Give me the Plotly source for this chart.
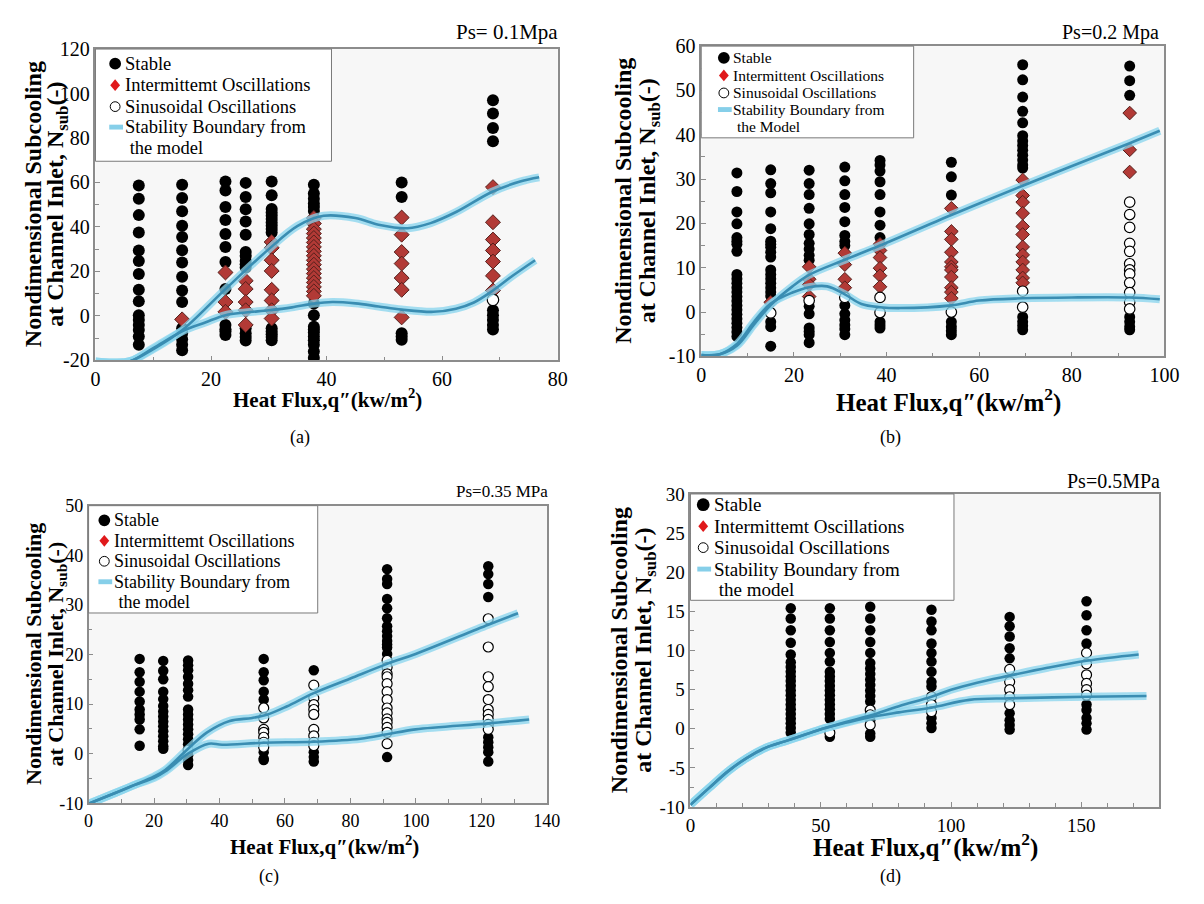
import plotly.graph_objects as go

FONT = "Liberation Serif"

# ======================= DATA =======================
# ---- Panel (a)  Ps = 0.1 MPa ----
A_STABLE = {
    7.5: [58.6, 52.7, 45.3, 37.5, 29.4, 24.7, 18.8, 11.7, 6.5, 0.3, -1.9, -4.1, -6.4, -9.3, -13.0],
    15.0: [59.0, 53.0, 47.0, 40.5, 35.5, 29.5, 24.0, 17.6, 11.4, 6.2, -5.6, -8.0, -10.5, -13.0, -15.5],
    22.5: [60.4, 56.4, 49.0, 43.1, 36.8, 31.0, 24.2, 12.1, -4.1, -6.0, -7.1, -8.6],
    26.0: [59.8, 53.5, 47.9, 42.4, 36.5, 28.7, 26.9, 24.7, 23.2, 21.7, -5.6, -7.8, -9.5, -11.1],
    30.5: [60.4, 54.2, 48.0, 46.5, 45.0, 43.5, 42.0, 40.5, 39.0, 37.5, -5.6, -7.0, -8.3, -9.5, -11.0],
    37.8: [59.0, 55.0, 52.7, 50.5, 49.0, 47.1, 5.5, 0.3, -4.9, -6.2, -7.5, -9.3, -11.0, -13.0, -16.0, -18.9],
    53.0: [60.0, 53.5, -7.8, -9.3, -10.8],
    68.8: [97.0, 91.0, 84.5, 78.5, 2.5, 0.3, -1.9, -4.1, -6.1],
}
A_INTER = {
    15.0: [-1.6],
    22.5: [19.5, 6.2, 1.8],
    26.0: [15.8, 12.1, 6.2, 2.5, -4.1],
    30.5: [33.2, 30.6, 25.0, 20.2, 11.7, 6.9, 2.5, -1.2],
    37.8: [44.0, 41.5, 39.0, 37.0, 35.0, 33.0, 31.0, 29.0, 27.0, 25.0, 23.0, 21.0, 19.0, 17.0, 15.0, 13.0, 11.0, 9.0],
    53.0: [44.2, 36.5, 28.7, 23.5, 17.0, 11.7, -0.7],
    68.8: [57.9, 42.1, 34.3, 29.4, 24.4, 18.0, 11.4],
}
A_SINUS = {68.8: [7.2]}
A_UP_X = [0, 3, 6, 10, 15, 22.5, 30, 35, 39.5, 45, 49, 54, 58, 62.5, 68.6, 73.5, 76.8]
A_UP_Y = [-20.5, -21, -20.4, -15, -6.5, 12, 30, 40.5, 45, 44, 41, 39.4, 41.7, 46.8, 55.7, 60.4, 62.3]
A_LO_X = [0, 3, 6, 10, 15, 19, 22.5, 26, 30, 34, 37.8, 41, 45, 49, 53, 58.5, 62.4, 65.5, 68.6, 72.2, 76.1]
A_LO_Y = [-20.5, -21, -20.4, -14.5, -7, -3, 0.3, 1.5, 2.5, 3.8, 5.5, 6.2, 5.6, 4.2, 2.8, 1.8, 3.2, 6.0, 11, 18, 25]
A_XTICKS = [0, 20, 40, 60, 80]
A_YTICKS = [-20, 0, 20, 40, 60, 80, 100, 120]

# ---- Panel (b)  Ps = 0.2 MPa ----
B_STABLE = {
    7.7: [31.4, 27.2, 22.6, 19.9, 16.8, 16.0, 15.3, 13.7, 8.5, 7.5, 6.5, 5.5, 4.5, 3.5, 2.5, 1.5, 0.5, -0.5, -1.5, -2.5, -3.5, -4.5, -5.5],
    15.0: [32.1, 29.0, 26.9, 22.6, 18.8, 16.0, 15.3, 14.6, 13.5, 12.4, 9.5, 8.5, 7.5, 6.5, 5.5, 4.5, 3.6, -2.2, -3.3, -7.7],
    23.3: [32.0, 29.0, 26.5, 23.4, 19.9, 17.5, 15.5, 14.2, 12.8, 11.7, 1.3, -0.4, -3.6, -4.4, -5.1, -6.9],
    31.0: [32.7, 29.6, 26.5, 23.6, 20.4, 17.3, 15.9, 15.0, 1.5, -0.4, -1.8, -2.9, -3.8, -5.1],
    38.6: [34.2, 33.2, 31.8, 29.4, 26.5, 22.6, 19.6, 16.8, -2.2, -2.9, -3.6],
    54.0: [33.8, 30.5, 26.4, -2.2, -3.3, -4.2, -5.1],
    69.4: [55.8, 52.4, 48.5, 45.3, 42.7, 39.8, 38.6, 37.6, 36.5, 35.4, 34.3, 33.2, 32.5, -1.1, -2.2, -3.1, -4.0],
    92.5: [55.5, 52.2, 48.9, -1.1, -2.2, -3.3, -4.0],
}
B_INTER = {
    15.0: [2.2],
    23.3: [10.2, 7.4, 6.2, 3.5],
    31.0: [13.3, 10.7, 7.4, 5.5],
    38.6: [15.3, 13.9, 12.3, 9.9, 8.2, 5.7],
    54.0: [23.4, 18.2, 16.4, 13.5, 11.3, 10.2, 9.5, 7.9, 5.5, 4.5, 3.1],
    69.4: [29.8, 26.3, 24.8, 22.3, 19.3, 17.5, 14.7, 12.9, 11.3, 9.5, 7.7, 6.6],
    92.5: [44.9, 36.6, 31.6],
}
B_SINUS = {
    15.0: [-0.2],
    23.3: [2.6],
    31.0: [3.3],
    38.6: [3.3, -0.1],
    54.0: [0.0],
    69.4: [4.7, 1.1],
    92.5: [24.8, 22.0, 19.1, 15.5, 13.7, 10.9, 9.5, 8.6, 6.6, 4.4, 2.2, 0.7],
}
B_UP_X = [0, 4, 7.7, 11.4, 15, 19.7, 23.3, 31, 38.6, 54, 69.4, 92.5, 99]
B_UP_Y = [-9.7, -9.5, -7.6, -2.8, 1.6, 5.8, 8.4, 11.8, 15, 21.9, 28.5, 38.1, 40.9]
B_LO_X = [0, 4, 7.7, 11.4, 15, 19.7, 23.3, 27.2, 31, 34.6, 38.6, 42.9, 54, 60, 69.4, 80, 92.5, 99]
B_LO_Y = [-9.7, -9.5, -7.2, -2.2, 1.9, 4.4, 5.6, 5.8, 4.0, 1.8, 1.1, 0.9, 1.5, 2.6, 3.1, 3.3, 3.3, 2.9]
B_XTICKS = [0, 20, 40, 60, 80, 100]
B_YTICKS = [-10, 0, 10, 20, 30, 40, 50, 60]

# ---- Panel (c)  Ps = 0.35 MPa ----
C_STABLE = {
    15.6: [19.1, 16.4, 14.5, 12.5, 10.5, 8.9, 7.9, 6.9, 4.9, 1.6],
    22.8: [18.7, 16.7, 15.0, 12.5, 11.0, 9.6, 8.5, 7.5, 6.5, 5.5, 4.5, 3.5, 2.5, 1.5, 1.0],
    30.4: [18.8, 17.8, 16.8, 15.5, 14.1, 12.8, 11.5, 8.9, 7.9, 6.9, 5.9, 4.9, 3.9, 2.9, 1.9, -0.3, -1.3, -2.3],
    53.5: [19.1, 16.4, 14.8, 12.5, 10.9, 0.3, -1.0, -1.3],
    68.8: [16.8, 0.3, -0.7, -1.6],
    91.2: [37.2, 35.2, 34.2, 31.2, 29.3, 27.3, 25.7, 24.7, 23.7, 22.7, 22.0, 21.4, 20.1, -0.7],
    122.1: [37.8, 36.2, 34.2, 31.6, 3.3, 2.3, 1.3, 0.3, -1.6],
}
C_SINUS = {
    30.4: [0.7],
    53.5: [9.2, 7.2, 4.9, 4.3, 3.3, 2.3, 1.3],
    68.8: [13.8, 11.2, 9.9, 8.9, 7.9, 4.9, 3.6, 2.3, 1.6],
    91.2: [18.8, 17.4, 16.1, 15.5, 14.1, 12.5, 10.9, 9.2, 8.2, 7.0, 6.3, 5.3, 4.3, 2.0],
    122.1: [27.2, 21.5, 15.5, 13.5, 10.9, 8.9, 7.9, 6.9, 5.9, 4.9],
}
C_INTER = {}
C_UP_X = [0, 8.3, 14.1, 20, 23.4, 30.4, 36.2, 43.1, 50, 54.7, 60.5, 68.8, 79.8, 91.2, 99.9, 122.1, 131.2]
C_UP_Y = [-10.1, -7.9, -6.3, -4.6, -3.3, 1, 4.3, 6.6, 7.2, 7.9, 9.5, 12.2, 15.1, 18.1, 20.1, 26, 28.3]
C_LO_X = [0, 8.3, 14.1, 20, 23.4, 30.4, 36.7, 40.8, 53.5, 68.8, 83.1, 91.2, 99.9, 122.1, 134.6]
C_LO_Y = [-10.1, -7.9, -6.3, -4.9, -3.6, 0, 2, 1.8, 2.2, 2.4, 3, 3.9, 4.9, 6.1, 6.9]
C_XTICKS = [0, 20, 40, 60, 80, 100, 120, 140]
C_YTICKS = [-10, 0, 10, 20, 30, 40, 50]

# ---- Panel (d)  Ps = 0.5 MPa ----
D_STABLE = {
    38.5: [15.4, 14.1, 12.6, 11.0, 9.5, 8.5, 7.9, 7.3, 6.7, 6.1, 5.5, 4.9, 4.3, 3.7, 3.1, 2.5, 1.9, 1.3, 0.7, 0.1, -0.5],
    53.5: [15.4, 14.1, 12.6, 11.1, 9.7, 8.6, 7.3, 6.7, 6.1, 5.5, 4.9, 4.3, 3.7, 3.1, 2.5, 1.9, 1.3, -1.0],
    69.0: [15.6, 14.1, 12.6, 11.1, 9.7, 8.4, 7.7, 7.0, 6.3, 5.6, 4.9, 4.2, 3.5, 1.1, -0.6, -1.0],
    92.5: [15.2, 13.7, 12.6, 10.9, 9.7, 8.6, 7.3, 6.0, 5.4, 1.4, 0.7, 0.1],
    122.5: [14.3, 13.1, 11.8, 10.3, 9.0, 2.0, 1.1, 0.5, -0.1],
    152.0: [16.3, 14.5, 12.6, 10.9, 3.1, 2.4, 1.4, 0.7, -0.1],
}
D_SINUS = {
    53.5: [-0.5],
    69.0: [2.4, 1.8, 0.5],
    92.5: [4.1, 3.1, 2.2],
    122.5: [7.6, 6.0, 5.0, 4.1, 3.1],
    152.0: [9.7, 8.3, 6.9, 5.8, 5.0, 4.3],
}
D_INTER = {}
D_UP_X = [0, 7, 14.5, 21.7, 29, 36.2, 43.5, 50.7, 60, 69, 80, 92.5, 100, 110, 122.5, 137, 152, 172]
D_UP_Y = [-9.7, -7.6, -5.4, -3.7, -2.4, -1.6, -0.8, 0, 0.9, 1.7, 2.9, 4.1, 5.0, 5.9, 6.8, 7.8, 8.7, 9.5]
D_LO_X = [0, 7, 14.5, 21.7, 29, 36.2, 43.5, 50.7, 60, 69, 80, 92.5, 107, 122.5, 152, 175]
D_LO_Y = [-9.7, -7.6, -5.4, -3.7, -2.4, -1.6, -0.8, 0, 0.8, 1.5, 2.1, 2.7, 3.7, 3.9, 4.1, 4.2]
D_XTICKS = [0, 50, 100, 150]
D_YTICKS = [-10, -5, 0, 5, 10, 15, 20, 25, 30]

PRESSURES = ["Ps= 0.1Mpa", "Ps=0.2 Mpa", "Ps=0.35 MPa", "Ps=0.5MPa"]
PANEL_TAGS = ["(a)", "(b)", "(c)", "(d)"]
LEGEND_TEXTS = [
    ["Stable", "Intermittemt Oscillations", "Sinusoidal Oscillations", "Stability Boundary from", " the model"],
    ["Stable", "Intermittent Oscillations", "Sinusoidal Oscillations", "Stability Boundary from", " the Model"],
    ["Stable", "Intermittemt Oscillations", "Sinusoidal Oscillations", "Stability Boundary from", " the model"],
    ["Stable", "Intermittemt Oscillations", "Sinusoidal Oscillations", "Stability Boundary from", " the model"],
]
YTITLE_LINES = ["<b>Nondimensional Subcooling</b>", "<b>at Channel Inlet, N<sub>sub</sub>(-)</b>"]
XTITLE = "<b>Heat Flux,q\u2033(kw/m<sup>2</sup>)</b>"

# ======================= LAYOUT / STYLE =======================
W, H = 1204, 904
BOXES = [(92, 39, 562, 358), (708, 36, 1179, 354), (85, 507, 551, 812), (697, 495, 1174, 816)]
XRANGES = [(0, 80), (0, 100), (0, 140), (0, 180)]
YRANGES = [(-20, 120), (-10, 60), (-10, 50), (-10, 30)]
XMINOR = [10, 10, 10, 10]
YMINOR = [10, 5, 5, 2.5]
MSIZE = [12, 11, 10.5, 10.5]
TICKFONT = [20, 20, 18, 19]
YTITLE_X = [(28, 53), (629, 655), (29, 53), (624, 650)]
YTITLE_FS = [24, 24, 22, 24]
XTITLE_POS = [(328, 397), (959, 399), (325, 855), (936, 855)]
XTITLE_FS = [21, 25, 21, 25]
PS_POS = [(510, 22), (1124, 22), (505, 492), (1127, 482)]
PS_FS = [21, 20, 17, 20]
TAG_POS = [(300, 437), (900, 437), (268, 887), (900, 887)]
# manual legend boxes: left, top, right, bottom ; row centres ; symbol x ; text x
LEG_BOX = [(92, 39, 332, 154), (708, 36, 924, 130), (85, 507, 318, 617), (697, 495, 965, 604)]
LEG_ROWS = [(54, 76, 98, 119, 140), (48, 66, 84, 101, 118), (522, 543, 564, 585, 606), (506, 528, 550, 572, 593)]
LEG_SYM_X = [112, 731, 101, 710]
LEG_TXT_X = [121, 739, 110, 720]
LEG_FS = [18.5, 15.5, 18, 19]
LEG_DOT = [12, 12, 12, 13]

CORE = "#3a8db2"
HALO = "rgba(135,212,238,0.75)"

DATA = [
    (A_STABLE, A_INTER, A_SINUS, A_UP_X, A_UP_Y, A_LO_X, A_LO_Y, A_XTICKS, A_YTICKS),
    (B_STABLE, B_INTER, B_SINUS, B_UP_X, B_UP_Y, B_LO_X, B_LO_Y, B_XTICKS, B_YTICKS),
    (C_STABLE, C_INTER, C_SINUS, C_UP_X, C_UP_Y, C_LO_X, C_LO_Y, C_XTICKS, C_YTICKS),
    (D_STABLE, D_INTER, D_SINUS, D_UP_X, D_UP_Y, D_LO_X, D_LO_Y, D_XTICKS, D_YTICKS),
]


def expand(cols):
    xs, ys = [], []
    for x, vals in cols.items():
        xs += [x] * len(vals)
        ys += list(vals)
    return xs, ys


def px(x):
    return x / W


def py(y):
    return 1 - y / H


fig = go.Figure()
annotations, shapes = [], []
layout = dict(
    width=W, height=H, margin=dict(l=0, r=0, t=0, b=0),
    paper_bgcolor="white", plot_bgcolor="#f7f7f7", showlegend=False,
    font=dict(family=FONT, color="black"),
)

for i, (stab, inter, sinus, ux, uy, lx, ly, xt, yt) in enumerate(DATA):
    n = i + 1
    sfx = "" if n == 1 else str(n)
    xa, ya = "x" + sfx, "y" + sfx
    common = dict(xaxis=xa, yaxis=ya, hoverinfo="skip", showlegend=False)

    sx, sy = expand(stab)
    fig.add_trace(go.Scatter(x=sx, y=sy, mode="markers", name="Stable",
                             marker=dict(symbol="circle", color="black", size=MSIZE[i]), **common))
    if inter:
        ix, iy = expand(inter)
        fig.add_trace(go.Scatter(x=ix, y=iy, mode="markers", name="Intermittent Oscillations",
                                 marker=dict(symbol="diamond", color="#b23a36", size=MSIZE[i] - 0.5,
                                             line=dict(color="#55201c", width=1)), **common))
    ox, oy = expand(sinus)
    fig.add_trace(go.Scatter(x=ox, y=oy, mode="markers", name="Sinusoidal Oscillations",
                             marker=dict(symbol="circle", color="white", size=MSIZE[i] - 0.5,
                                         line=dict(color="black", width=1.2)), **common))
    for cx, cy in ((ux, uy), (lx, ly)):
        fig.add_trace(go.Scatter(x=cx, y=cy, mode="lines",
                                 line=dict(color=HALO, width=8, shape="spline", smoothing=1.0), **common))
    for cx, cy in ((ux, uy), (lx, ly)):
        fig.add_trace(go.Scatter(x=cx, y=cy, mode="lines", name="Stability Boundary",
                                 line=dict(color=CORE, width=2.6, shape="spline", smoothing=1.0), **common))

    l, t, r, b = BOXES[i]
    axis_style = dict(showline=True, mirror=True, linecolor="#8c8c8c", linewidth=1.5,
                      ticks="inside", ticklen=5, tickcolor="#8c8c8c", tickwidth=1,
                      showgrid=False, zeroline=False, fixedrange=True,
                      tickfont=dict(family=FONT, size=TICKFONT[i], color="black"))
    layout["xaxis" + sfx] = dict(
        domain=[px(l), px(r)], range=list(XRANGES[i]), anchor=ya,
        tickmode="array", tickvals=xt, ticktext=[str(v) for v in xt],
        minor=dict(tickmode="linear", tick0=0, dtick=XMINOR[i], ticks="inside", ticklen=4,
                   tickcolor="#8c8c8c"),
        **axis_style)
    layout["yaxis" + sfx] = dict(
        domain=[py(b), py(t)], range=list(YRANGES[i]), anchor=xa,
        tickmode="array", tickvals=yt, ticktext=[str(v) for v in yt],
        minor=dict(tickmode="linear", tick0=0, dtick=YMINOR[i], ticks="inside", ticklen=4,
                   tickcolor="#8c8c8c"),
        **axis_style)

    # ---- manual legend (box, swatches, texts) ----
    bl, bt, br, bb = LEG_BOX[i]
    shapes.append(dict(type="rect", xref="paper", yref="paper", x0=px(bl), x1=px(br), y0=py(bb), y1=py(bt),
                       fillcolor="white", line=dict(color="#7a7a7a", width=1), layer="above"))
    rows = LEG_ROWS[i]
    sxp = LEG_SYM_X[i]
    rd = LEG_DOT[i] / 2
    shapes.append(dict(type="circle", xref="paper", yref="paper",
                       x0=px(sxp - rd), x1=px(sxp + rd), y0=py(rows[0] + rd), y1=py(rows[0] - rd),
                       fillcolor="black", line=dict(width=0), layer="above"))
    dy = rows[1]
    shapes.append(dict(type="path", xref="paper", yref="paper",
                       path=(f"M {px(sxp - 5)},{py(dy)} L {px(sxp)},{py(dy - 6)} "
                             f"L {px(sxp + 5)},{py(dy)} L {px(sxp)},{py(dy + 6)} Z"),
                       fillcolor="#e0191b", line=dict(width=0), layer="above"))
    ro = 5
    shapes.append(dict(type="circle", xref="paper", yref="paper",
                       x0=px(sxp - ro), x1=px(sxp + ro), y0=py(rows[2] + ro), y1=py(rows[2] - ro),
                       fillcolor="white", line=dict(color="black", width=1), layer="above"))
    shapes.append(dict(type="rect", xref="paper", yref="paper",
                       x0=px(sxp - 6), x1=px(sxp + 8), y0=py(rows[3] + 2.5), y1=py(rows[3] - 2.5),
                       fillcolor="#86cfe9", line=dict(width=0), layer="above"))
    for k, txt in enumerate(LEGEND_TEXTS[i]):
        annotations.append(dict(text=txt, x=px(LEG_TXT_X[i]), y=py(rows[k]), xref="paper", yref="paper",
                                xanchor="left", yanchor="middle", showarrow=False, borderpad=0,
                                font=dict(family=FONT, size=LEG_FS[i], color="black")))

    # ---- titles and labels ----
    for k, line in enumerate(YTITLE_LINES):
        annotations.append(dict(text=line, textangle=-90, x=px(YTITLE_X[i][k]), y=py((t + b) / 2),
                                xref="paper", yref="paper", xanchor="center", yanchor="middle",
                                showarrow=False, borderpad=0,
                                font=dict(family=FONT, size=YTITLE_FS[i], color="black")))
    xtx, xty = XTITLE_POS[i]
    annotations.append(dict(text=XTITLE, x=px(xtx), y=py(xty), xref="paper", yref="paper",
                            xanchor="center", yanchor="middle", showarrow=False,
                            font=dict(family=FONT, size=XTITLE_FS[i], color="black")))
    pxx, pyy = PS_POS[i]
    annotations.append(dict(text=PRESSURES[i], x=px(pxx), y=py(pyy), xref="paper", yref="paper",
                            xanchor="center", yanchor="middle", showarrow=False,
                            font=dict(family=FONT, size=PS_FS[i], color="black")))
    tx, ty = TAG_POS[i]
    annotations.append(dict(text=PANEL_TAGS[i], x=px(tx), y=py(ty), xref="paper", yref="paper",
                            xanchor="center", yanchor="middle", showarrow=False,
                            font=dict(family=FONT, size=18, color="black")))

layout["annotations"] = annotations
layout["shapes"] = shapes
fig.update_layout(**layout)
fig.write_html("out.html")
